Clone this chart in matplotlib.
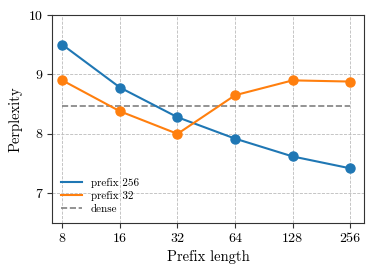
import matplotlib
matplotlib.use("Agg")
from matplotlib import pyplot as plt

prefix_len = [8, 16, 32, 64, 128, 256]
ppl_256 = [9.50, 8.78, 8.28, 7.92, 7.62, 7.42]
ppl_32 = [8.90, 8.38, 8.00, 8.65, 8.90, 8.88]
dense = 8.47

plt.rcParams["font.family"] = "serif"
plt.rcParams["font.serif"] = ["cmr10"]
plt.rcParams["mathtext.fontset"] = "cm"
plt.rcParams["axes.formatter.use_mathtext"] = True

f = plt.figure(figsize=(3.74, 2.74), dpi=100)
ax = f.add_axes([52 / 374, 1 - 223 / 274, 312 / 374, 208 / 274])

ax.plot(prefix_len, ppl_256, marker="o", color="#1f77b4", label="prefix 256",
        markersize=6.5, linewidth=1.5, zorder=3)
ax.plot(prefix_len, ppl_32, marker="o", color="#ff7f0e", label="prefix 32",
        markersize=6.5, linewidth=1.5, zorder=3)
ax.plot([prefix_len[0], prefix_len[-1]], [dense, dense], linestyle="--",
        color="gray", linewidth=1.2, label="dense", zorder=2)

ax.set_xscale("log", base=2)
ax.set_xticks(prefix_len)
ax.set_xticklabels([str(p) for p in prefix_len])
ax.minorticks_off()
ax.set_xlim(8 * 2 ** -0.18, 256 * 2 ** 0.24)
ax.set_ylim(6.5, 10)
ax.set_yticks([7, 8, 9, 10])
ax.set_yticklabels(["7", "8", "9", "10"])
ax.grid(True, linestyle="--", color="#bbbbbb", linewidth=0.6)
for s in ax.spines.values():
    s.set_color("#333333")
ax.tick_params(labelsize=10, color="#333333")

ax.set_xlabel("Prefix length", fontsize=10.5)
ax.set_ylabel("Perplexity", fontsize=10.5)
leg = ax.legend(loc="lower left", frameon=False, fontsize=8, handlelength=1.9,
                borderaxespad=0.4, labelspacing=0.3)
for h in leg.legend_handles:
    h.set_marker("")

f.savefig("out.png", dpi=100)
